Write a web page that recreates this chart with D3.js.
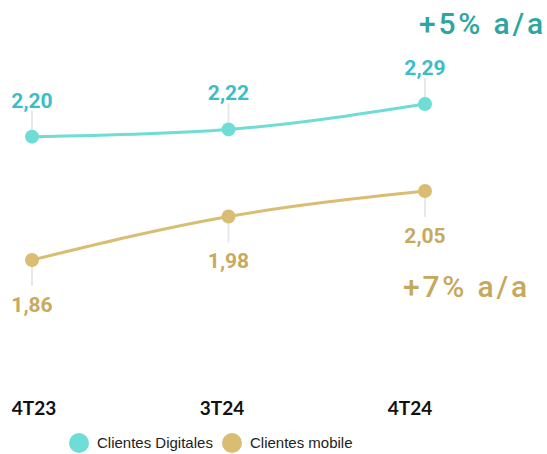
<!DOCTYPE html>
<html>
<head>
<meta charset="utf-8">
<script src="https://cdn.jsdelivr.net/npm/d3@7"></script>
<style>
  body { margin: 0; background: #fff; }
  svg { display: block; }
</style>
</head>
<body>
<svg id="chart"></svg>
<script>
const quarters = ['4T23', '3T24', '4T24'];
const digitales = [2.20, 2.22, 2.29];
const mobile = [1.86, 1.98, 2.05];
const seriesNames = ['Clientes Digitales', 'Clientes mobile'];
const growth = ['+5% a/a', '+7% a/a'];

const width = 547;
const height = 454;

const svg = d3.select('#chart')
  .attr('width', width)
  .attr('height', height);

const x = d3.scalePoint().domain(quarters).range([32, 425]);
// axis labels sit a little left of the points in the original
const xLabel = d3.scalePoint().domain(quarters).range([34, 410]);
const y = d3.scaleLinear().domain([1.86, 2.29]).range([260, 104]);

const series = [
  { name: seriesNames[0], values: digitales, line: '#6fddd5', label: '#3dbec6', up: true },
  { name: seriesNames[1], values: mobile, line: '#d9bd72', label: '#c7aa5e', up: false },
];

const line = d3.line()
  .curve(d3.curveMonotoneX)
  .x(d => x(d.q))
  .y(d => y(d.v));

const fmt = v => d3.format('.2f')(v).replace('.', ',');

series.forEach(s => {
  const data = s.values.map((v, i) => ({ q: quarters[i], v }));
  const g = svg.append('g');

  // leader lines
  g.selectAll('line.lead')
    .data(data)
    .enter()
    .append('line')
    .attr('class', 'lead')
    .attr('x1', d => x(d.q))
    .attr('x2', d => x(d.q))
    .attr('y1', d => y(d.v))
    .attr('y2', d => y(d.v) + (s.up ? -26 : 26))
    .attr('stroke', '#e8e8e8')
    .attr('stroke-width', 2);

  g.append('path')
    .datum(data)
    .attr('fill', 'none')
    .attr('stroke', s.line)
    .attr('stroke-width', 3)
    .attr('d', line);

  g.selectAll('circle')
    .data(data)
    .enter()
    .append('circle')
    .attr('cx', d => x(d.q))
    .attr('cy', d => y(d.v))
    .attr('r', 7)
    .attr('fill', s.line);

  g.selectAll('text')
    .data(data)
    .enter()
    .append('text')
    .attr('x', d => x(d.q))
    .attr('y', d => y(d.v) + (s.up ? -29 : 52))
    .attr('text-anchor', 'middle')
    .attr('font-family', 'Roboto, sans-serif')
    .attr('font-weight', 'bold')
    .attr('font-size', 21)
    .attr('fill', s.label)
    .text(d => fmt(d.v));
});

// growth annotations
svg.append('text')
  .attr('x', 419)
  .attr('y', 34)
  .attr('font-family', 'Roboto, sans-serif')
  .attr('font-weight', 500)
  .attr('font-size', 30)
  .attr('letter-spacing', 2.8)
  .attr('fill', '#2ea69f')
  .text(growth[0]);

svg.append('text')
  .attr('x', 403)
  .attr('y', 297)
  .attr('font-family', 'Roboto, sans-serif')
  .attr('font-weight', 500)
  .attr('font-size', 30)
  .attr('letter-spacing', 2.8)
  .attr('fill', '#c6a85c')
  .text(growth[1]);

// category labels
svg.append('g')
  .selectAll('text')
  .data(quarters)
  .enter()
  .append('text')
  .attr('x', d => xLabel(d))
  .attr('y', 415)
  .attr('text-anchor', 'middle')
  .attr('font-family', 'Lato, sans-serif')
  .attr('font-weight', 'bold')
  .attr('font-size', 19)
  .attr('fill', '#111')
  .text(d => d);

// legend
const legend = svg.append('g').attr('transform', 'translate(79,443)');
const legendX = [0, 153];
series.forEach((s, i) => {
  const item = legend.append('g').attr('transform', `translate(${legendX[i]},0)`);
  item.append('circle').attr('r', 10).attr('fill', s.line);
  item.append('text')
    .attr('x', 18)
    .attr('y', 5)
    .attr('font-family', '"Liberation Sans", Arial, sans-serif')
    .attr('font-size', 15)
    .attr('fill', '#222')
    .text(s.name);
});
</script>
</body>
</html>
